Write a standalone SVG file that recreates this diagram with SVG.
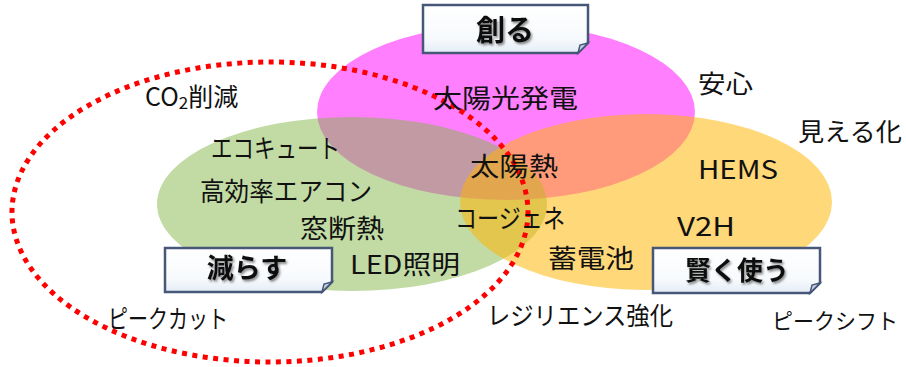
<svg xmlns="http://www.w3.org/2000/svg" width="906" height="367" viewBox="0 0 906 367">
<defs>
<linearGradient id="boxg" x1="0" y1="0" x2="0" y2="1">
<stop offset="0" stop-color="#ffffff"/>
<stop offset="0.7" stop-color="#f7fafd"/>
<stop offset="1" stop-color="#e4ecf6"/>
</linearGradient>
<filter id="sh" x="-20%" y="-20%" width="140%" height="140%">
<feDropShadow dx="1.5" dy="2" stdDeviation="1.2" flood-color="#000" flood-opacity="0.45"/>
</filter>
</defs>
<style>
.t{font-family:"Noto Sans CJK JP","Noto Sans",sans-serif;fill:#111;dominant-baseline:central}
.in{font-size:26px}
.out{font-size:25px}
.lbl{font-family:"Noto Sans CJK JP","Noto Sans",sans-serif;font-weight:bold;fill:#111;dominant-baseline:central;text-anchor:middle;filter:url(#sh)}
.box{fill:url(#boxg);stroke:#475777;stroke-width:2.5}
.fold{fill:#c9d3e3;stroke:#475777;stroke-width:1.5}
</style>
<rect width="906" height="367" fill="#ffffff"/>
<g id="ellipses">
<ellipse id="sozo" cx="506" cy="112" rx="189" ry="88" fill="#ff00ff" fill-opacity="0.5"/>
<ellipse id="herasu" cx="352" cy="204" rx="195" ry="87" fill="#86b64a" fill-opacity="0.5"/>
<ellipse id="kashikoku" cx="646" cy="202" rx="186" ry="88" fill="#ffb400" fill-opacity="0.52"/>
</g>
<g id="connectors">
<ellipse cx="270" cy="212" rx="258" ry="150" fill="none" stroke="#ff0000" stroke-width="5" stroke-dasharray="5 5.5"/>
</g>
<g id="box-tsukuru">
<path class="box" d="M423,5 H588 V43 L578,53 H423 Z"/>
<path class="fold" d="M588,43 L578,53 L580,45 Z"/>
<text class="lbl" x="505" y="28" font-size="29">創る</text>
</g>
<g id="box-herasu">
<path class="box" d="M165,248 H332 V282 L322,292 H165 Z"/>
<path class="fold" d="M332,282 L322,292 L324,284 Z"/>
<text class="lbl" x="247" y="266" font-size="27">減らす</text>
</g>
<g id="box-kashikoku">
<path class="box" d="M653,248 H820 V283 L810,293 H653 Z"/>
<path class="fold" d="M820,283 L810,293 L812,285 Z"/>
<text class="lbl" x="737" y="268" font-size="26">賢く使う</text>
</g>
<g id="inner-texts">
<text id="taiyoko" class="t in" x="433" y="96" textLength="145" lengthAdjust="spacingAndGlyphs">太陽光発電</text>
<text id="ecocute" class="t in" x="211" y="146" textLength="129" lengthAdjust="spacingAndGlyphs">エコキュート</text>
<text id="aircon" class="t in" x="200" y="189" textLength="172" lengthAdjust="spacingAndGlyphs">高効率エアコン</text>
<text id="mado" class="t in" x="300" y="226" textLength="84" lengthAdjust="spacingAndGlyphs">窓断熱</text>
<text id="led" class="t in" x="350" y="262" textLength="110" lengthAdjust="spacingAndGlyphs">LED照明</text>
<text id="taiyonetsu" class="t in" x="470" y="164" textLength="88" lengthAdjust="spacingAndGlyphs">太陽熱</text>
<text id="cogene" class="t in" x="455" y="216" textLength="110" lengthAdjust="spacingAndGlyphs">コージェネ</text>
<text id="chikuden" class="t in" x="548" y="256" textLength="86" lengthAdjust="spacingAndGlyphs">蓄電池</text>
<text id="hems" class="t in" x="698" y="167" textLength="80" lengthAdjust="spacingAndGlyphs">HEMS</text>
<text id="v2h" class="t in" x="677" y="224" textLength="58" lengthAdjust="spacingAndGlyphs">V2H</text>
</g>
<g id="outer-texts">
<text id="co2" class="t out" x="145" y="95">CO<tspan font-size="17" dy="6">2</tspan><tspan dy="-6">削減</tspan></text>
<text id="anshin" class="t out" x="698" y="82" textLength="55" lengthAdjust="spacingAndGlyphs">安心</text>
<text id="mieruka" class="t out" x="798" y="130" textLength="104" lengthAdjust="spacingAndGlyphs">見える化</text>
<text id="peakcut" class="t out" x="108" y="317" textLength="120" lengthAdjust="spacingAndGlyphs">ピークカット</text>
<text id="resilience" class="t out" x="487" y="314" textLength="186" lengthAdjust="spacingAndGlyphs">レジリエンス強化</text>
<text id="peakshift" class="t" x="772" y="319" font-size="22" textLength="126" lengthAdjust="spacingAndGlyphs">ピークシフト</text>
</g>
</svg>
